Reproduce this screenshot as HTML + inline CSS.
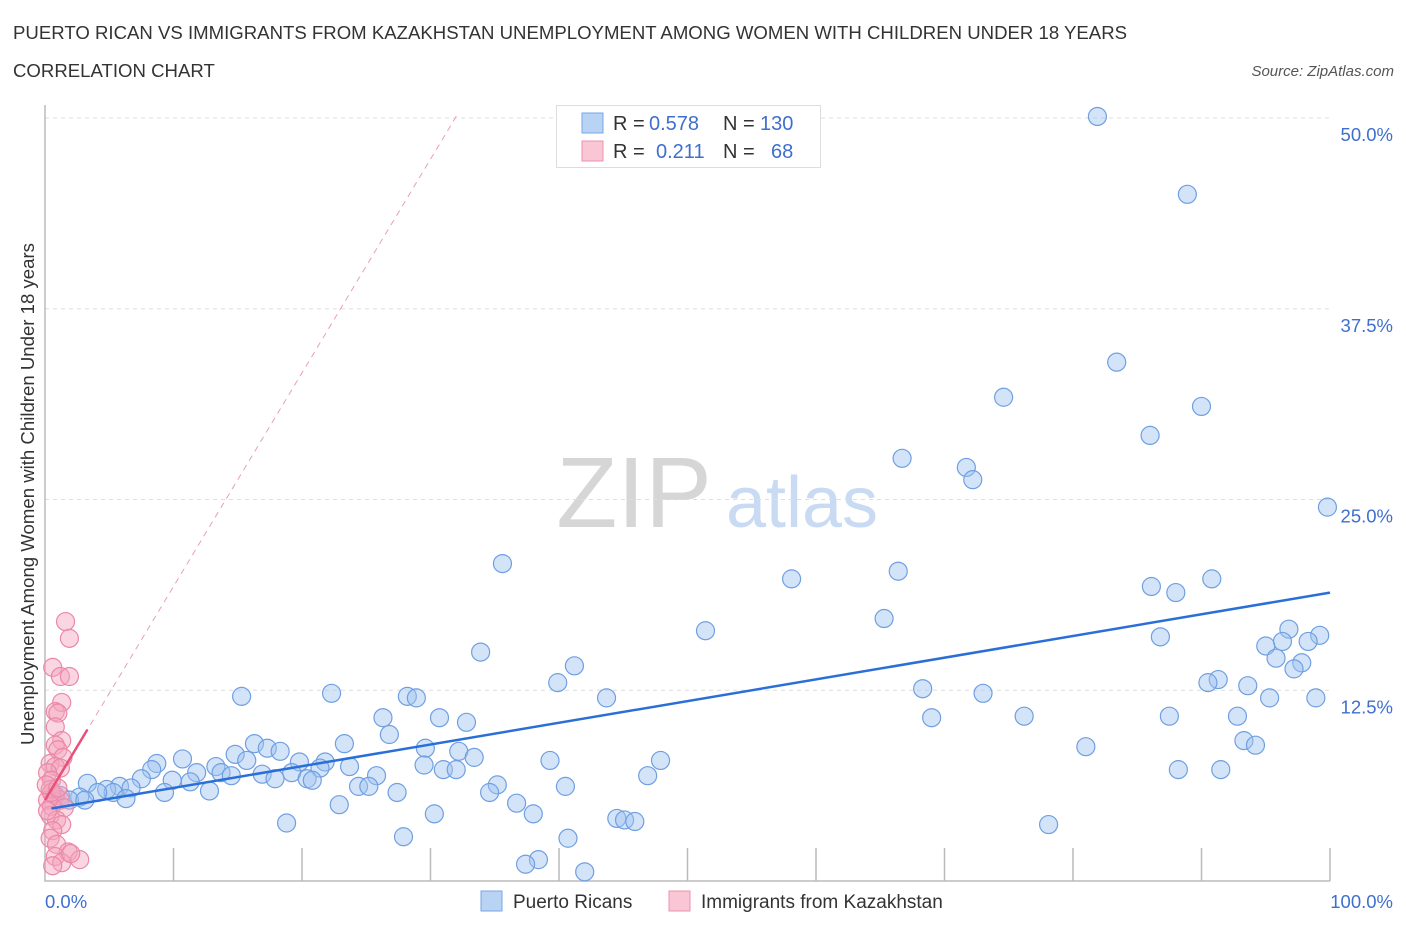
<!DOCTYPE html>
<html><head><meta charset="utf-8"><style>
body{margin:0;background:#fff;font-family:"Liberation Sans",sans-serif}
svg text{font-family:"Liberation Sans",sans-serif}
</style></head><body>
<svg id="chart" width="1406" height="930" viewBox="0 0 1406 930">
<text x="13" y="39" font-size="18.6" fill="#333">PUERTO RICAN VS IMMIGRANTS FROM KAZAKHSTAN UNEMPLOYMENT AMONG WOMEN WITH CHILDREN UNDER 18 YEARS</text>
<text x="13" y="77" font-size="18.6" fill="#333">CORRELATION CHART</text>
<text x="1394" y="76" font-size="15" fill="#555" font-style="italic" text-anchor="end">Source: ZipAtlas.com</text>
<g>
<text x="634" y="527" font-size="100" fill="#d6d6d6" font-family="Liberation Serif" text-anchor="middle">ZIP</text>
<text x="802" y="527" font-size="72" fill="#c9daf3" text-anchor="middle">atlas</text>
</g>
<g id="grid"></g>
<g id="axes"></g>
<g id="pts"></g>
<g id="trend"></g>
<text transform="translate(34,494) rotate(-90)" font-size="18.6" fill="#333" text-anchor="middle">Unemployment Among Women with Children Under 18 years</text>
<text x="45" y="908" font-size="18.5" fill="#3f6fce">0.0%</text>
<text x="1393" y="908" font-size="18.5" fill="#3f6fce" text-anchor="end">100.0%</text>
<g>
<rect x="556.5" y="105.5" width="264" height="62" fill="#fff" stroke="#ddd"/>
<rect x="582" y="113" width="21" height="20" fill="#b9d3f5" stroke="#79a6e6"/>
<rect x="582" y="141" width="21" height="20" fill="#f9c6d5" stroke="#ec93ae"/>
<text x="613" y="130" font-size="20" fill="#333">R = <tspan x="649" fill="#3f6fce">0.578</tspan><tspan x="723">N = </tspan><tspan x="760" fill="#3f6fce">130</tspan></text>
<text x="613" y="158" font-size="20" fill="#333">R = <tspan x="656" fill="#3f6fce">0.211</tspan><tspan x="723">N = </tspan><tspan x="771" fill="#3f6fce">68</tspan></text>
</g>
<g>
<rect x="481" y="891" width="21" height="20" fill="#b9d3f5" stroke="#79a6e6"/>
<text x="513" y="908" font-size="19" fill="#333">Puerto Ricans</text>
<rect x="669" y="891" width="21" height="20" fill="#f9c6d5" stroke="#ec93ae"/>
<text x="701" y="908" font-size="19" fill="#333">Immigrants from Kazakhstan</text>
</g>
</svg>
<script>
const yTicks=[12.5,25,37.5,50];
const yTickLabels=["12.5%","25.0%","37.5%","50.0%"];
const xTicks=[10,20,30,40,50,60,70,80,90,100];
const blueX=[81.9,88.9,83.4,74.6,90.0,86.0,66.7,71.7,72.2,99.8,35.6,58.1,66.4,90.8,86.1,88.0,65.3,51.4,96.8,99.2,86.8,96.3,98.3,95.0,33.9,95.8,97.8,41.2,97.2,39.9,91.3,90.5,93.6,68.3,15.3,22.3,28.2,28.9,43.7,73.0,95.3,98.9,26.3,30.7,32.8,69.0,76.2,87.5,92.8,26.8,23.3,93.3,94.2,16.3,17.3,18.3,29.6,81.0,14.8,32.2,10.7,8.7,15.7,19.8,21.8,33.4,39.3,47.9,13.3,8.3,23.7,29.5,31.0,32.0,21.4,88.2,91.5,13.7,11.8,16.9,19.2,25.8,46.9,7.5,9.9,14.5,20.4,17.9,20.8,24.4,25.2,35.2,40.5,3.3,5.8,6.7,11.3,12.8,9.3,4.8,27.4,34.6,5.3,4.1,2.7,1.2,1.9,6.3,22.9,36.7,38.0,30.3,44.5,45.1,45.9,18.8,78.1,27.9,40.7,38.4,37.4,42.0,0.8,3.1];
const blueY=[50.1,45.0,34.0,31.7,31.1,29.2,27.7,27.1,26.3,24.5,20.8,19.8,20.3,19.8,19.3,18.9,17.2,16.4,16.5,16.1,16.0,15.7,15.7,15.4,15.0,14.6,14.3,14.1,13.9,13.0,13.2,13.0,12.8,12.6,12.1,12.3,12.1,12.0,12.0,12.3,12.0,12.0,10.7,10.7,10.4,10.7,10.8,10.8,10.8,9.6,9.0,9.2,8.9,9.0,8.7,8.5,8.7,8.8,8.3,8.5,8.0,7.7,7.9,7.8,7.8,8.1,7.9,7.9,7.5,7.3,7.5,7.6,7.3,7.3,7.4,7.3,7.3,7.1,7.1,7.0,7.1,6.9,6.9,6.7,6.6,6.9,6.7,6.7,6.6,6.2,6.2,6.3,6.2,6.4,6.2,6.1,6.5,5.9,5.8,6.0,5.8,5.8,5.8,5.8,5.5,5.6,5.3,5.4,5.0,5.1,4.4,4.4,4.1,4.0,3.9,3.8,3.7,2.9,2.8,1.4,1.1,0.6,5.6,5.3];
const pinkX=[1.6,1.9,0.6,1.2,1.9,1.3,0.8,1.0,0.8,1.3,0.8,1.0,1.4,0.4,0.8,1.2,0.2,0.5,0.4,0.8,0.2,1.2,0.5,1.5,0.4,0.9,1.3,0.6,0.4,0.9,1.8,0.8,2.7,1.3,0.6,2.0,0.2,0.5,0.1,1.0];
const pinkY=[17.0,15.9,14.0,13.4,13.4,11.7,11.1,11.0,10.1,9.2,8.9,8.6,8.1,7.7,7.5,7.4,7.1,6.6,6.0,5.6,5.3,5.3,4.9,4.8,4.3,4.0,3.7,3.3,2.8,2.4,1.9,1.6,1.4,1.2,1.0,1.8,4.6,5.8,6.3,6.1];
const blueTrend=[0.5,100];const blueTrendY=[4.75,18.9];
const pinkSolid=[0,3.3];const pinkDash=[0,32.1];
const pinkA=5.3,pinkB=1.4;
const NS="http://www.w3.org/2000/svg";
const X=v=>45+v*12.85, Y=v=>881-v*15.26;
function mk(tag,parent,attrs){const e=document.createElementNS(NS,tag);for(const k in attrs)e.setAttribute(k,attrs[k]);parent.appendChild(e);return e;}
const grid=document.getElementById('grid'),axes=document.getElementById('axes'),pts=document.getElementById('pts'),trend=document.getElementById('trend');
yTicks.forEach((t,i)=>{
 const l=mk('line',grid,{x1:45,x2:1330,y1:Y(t),y2:Y(t),stroke:'#ddd','stroke-dasharray':'4,4'});
 
 
 const tx=mk('text',grid,{x:1393,y:Y(t)+23,'font-size':18.5,fill:'#3f6fce','text-anchor':'end'});
 tx.textContent=yTickLabels[i];
 
 
});
const ax=mk('path',axes,{d:`M45,105V881H1330`,stroke:'#bbb',fill:'none','stroke-width':1.5});


xTicks.forEach(t=>{
 const l=mk('line',axes,{x1:X(t),x2:X(t),y1:848,y2:881,stroke:'#bbb','stroke-width':1.5});
 
 
});
blueX.forEach((v,i)=>{
 const c=mk('circle',pts,{cx:X(v),cy:Y(blueY[i]),r:9,fill:'rgba(160,196,240,0.45)',stroke:'#6f9fe2','stroke-width':1.2});
 
 
});
pinkX.forEach((v,i)=>{
 const c=mk('circle',pts,{cx:X(v),cy:Y(pinkY[i]),r:9,fill:'rgba(244,165,190,0.45)',stroke:'#ea88a6','stroke-width':1.2});
 
 
});
const bt=mk('line',trend,{x1:X(blueTrend[0]),y1:Y(blueTrendY[0]),x2:X(blueTrend[1]),y2:Y(blueTrendY[1]),stroke:'#2a6fd8','stroke-width':2.5});


const pd=mk('line',trend,{x1:X(pinkDash[0]),y1:Y(pinkA+pinkB*pinkDash[0]),x2:X(pinkDash[1]),y2:Y(pinkA+pinkB*pinkDash[1]),stroke:'#e8a0b4','stroke-width':1,'stroke-dasharray':'6,5'});


const ps=mk('line',trend,{x1:X(pinkSolid[0]),y1:Y(pinkA+pinkB*pinkSolid[0]),x2:X(pinkSolid[1]),y2:Y(pinkA+pinkB*pinkSolid[1]),stroke:'#e8507a','stroke-width':2.5});


</script>
</body></html>
